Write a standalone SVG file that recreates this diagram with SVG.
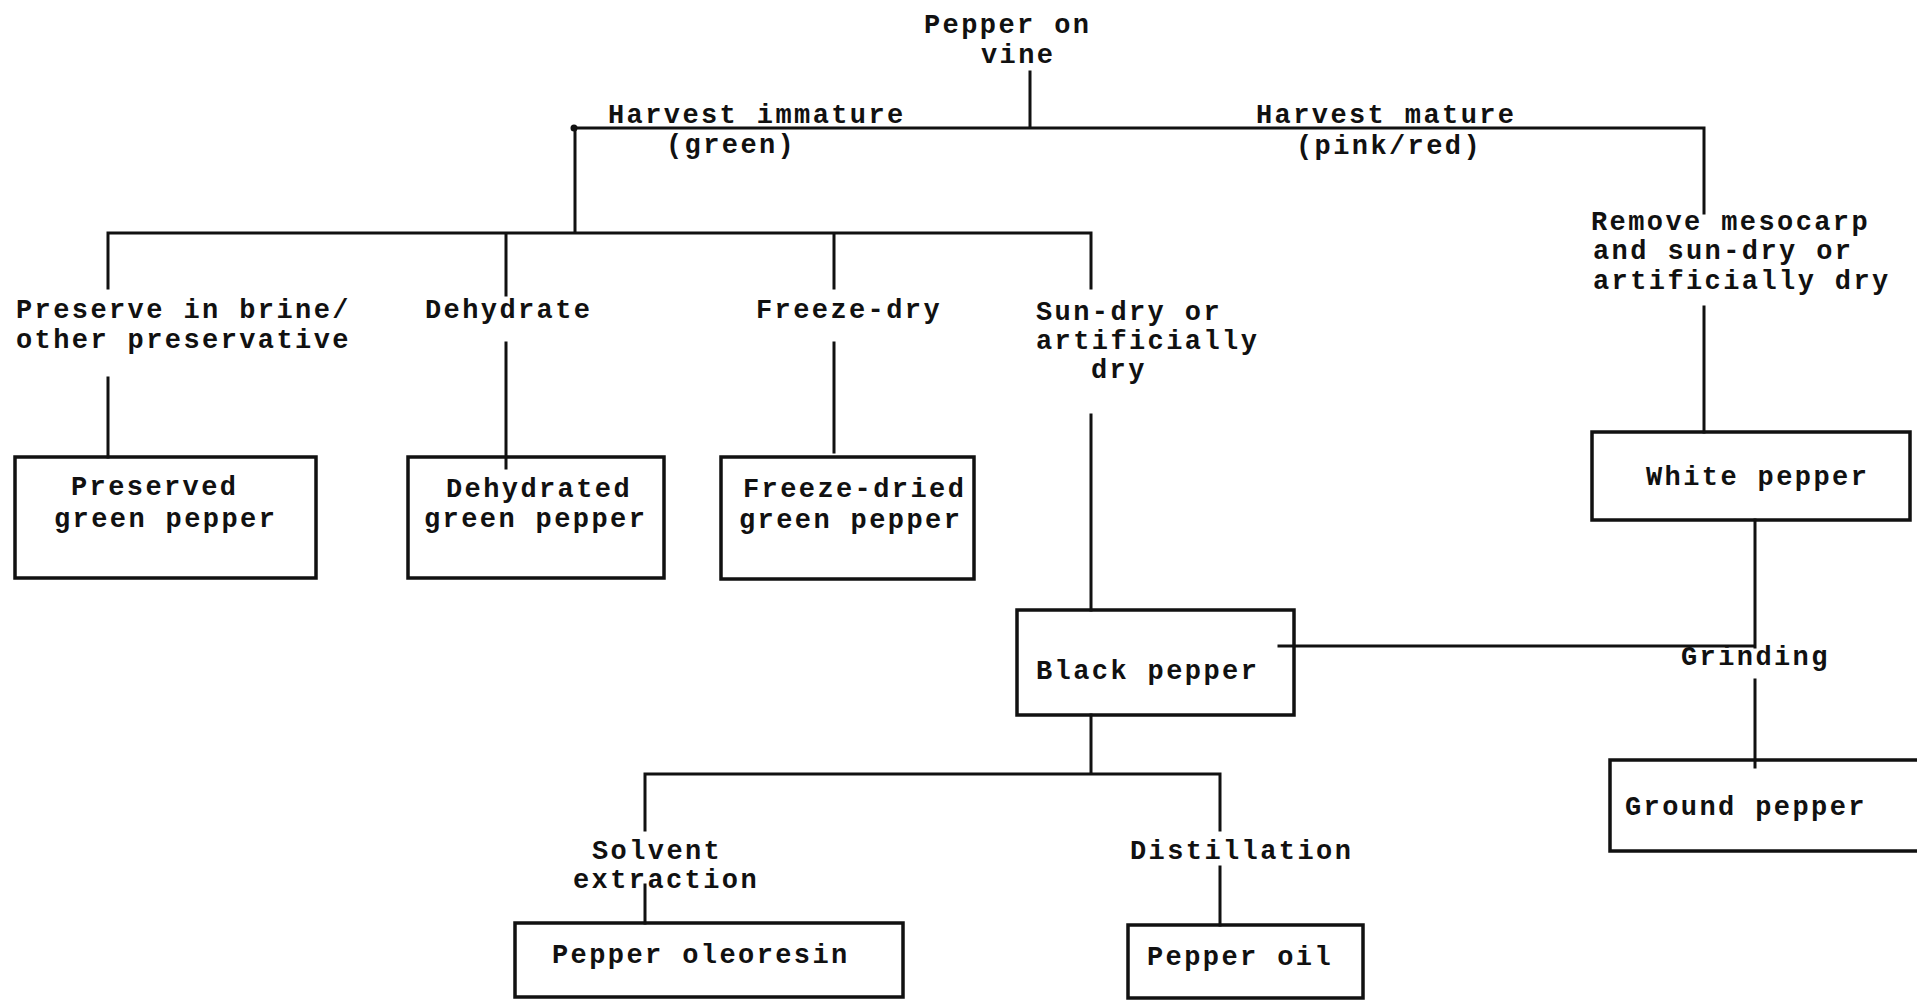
<svg xmlns="http://www.w3.org/2000/svg" width="1917" height="1002" viewBox="0 0 1917 1002">
<style>
text{font-family:"Liberation Mono","Courier New",monospace;font-size:27px;font-weight:bold;letter-spacing:2.4px;fill:#111}
.c{fill:none;stroke:#111;stroke-width:3;stroke-linecap:square}
.b{fill:none;stroke:#111;stroke-width:3.5}
</style>
<rect width="1917" height="1002" fill="#fff"/>
<g id="connectors">
<path class="c" d="M1030 72V128M574 128H1704M575 128V233M108 233H1091M108 233V288M108 378V457M506 233V295M506 343V468M834 233V288M834 343V452M1091 233V288M1091 415V610M1704 128V213M1704 307V432M1755 520V647M1279 646H1755M1755 680V767M1091 715V774M645 774H1220M645 774V830M645 885V923M1220 774V830M1220 867V925"/>
<circle cx="574" cy="128" r="3.5" fill="#111"/>
</g>
<g id="n-vine"><text x="924" y="33">Pepper on</text><text x="981" y="63">vine</text></g>
<g id="l-immature"><text x="608" y="123">Harvest immature</text><text x="666" y="153">(green)</text></g>
<g id="l-mature"><text x="1256" y="123">Harvest mature</text><text x="1296" y="154">(pink/red)</text></g>
<g id="l-preserve"><text x="16" y="318">Preserve in brine/</text><text x="16" y="348">other preservative</text></g>
<g id="l-dehydrate"><text x="425" y="318">Dehydrate</text></g>
<g id="l-freeze"><text x="756" y="318">Freeze-dry</text></g>
<g id="l-sundry"><text x="1036" y="320">Sun-dry or</text><text x="1036" y="349">artificially</text><text x="1091" y="378">dry</text></g>
<g id="l-remove"><text x="1591" y="230">Remove mesocarp</text><text x="1593" y="259">and sun-dry or</text><text x="1593" y="289">artificially dry</text></g>
<g id="n-preserved"><rect class="b" x="15" y="457" width="301" height="121"/><text x="71" y="495">Preserved</text><text x="54" y="527">green pepper</text></g>
<g id="n-dehydrated"><rect class="b" x="408" y="457" width="256" height="121"/><text x="446" y="497">Dehydrated</text><text x="424" y="527">green pepper</text></g>
<g id="n-freezedried"><rect class="b" x="721" y="457" width="253" height="122"/><text x="743" y="497">Freeze-dried</text><text x="739" y="528">green pepper</text></g>
<g id="n-white"><rect class="b" x="1592" y="432" width="318" height="88"/><text x="1646" y="485">White pepper</text></g>
<g id="n-black"><rect class="b" x="1017" y="610" width="277" height="105"/><text x="1036" y="679">Black pepper</text></g>
<g id="l-grinding"><text x="1681" y="665">Grinding</text></g>
<g id="n-ground"><rect class="b" x="1610" y="760" width="320" height="91"/><text x="1625" y="815">Ground pepper</text></g>
<g id="l-solvent"><text x="592" y="859">Solvent</text><text x="573" y="888">extraction</text></g>
<g id="l-distillation"><text x="1130" y="859">Distillation</text></g>
<g id="n-oleoresin"><rect class="b" x="515" y="923" width="388" height="74"/><text x="552" y="963">Pepper oleoresin</text></g>
<g id="n-oil"><rect class="b" x="1128" y="925" width="235" height="73"/><text x="1147" y="965">Pepper oil</text></g>
</svg>
